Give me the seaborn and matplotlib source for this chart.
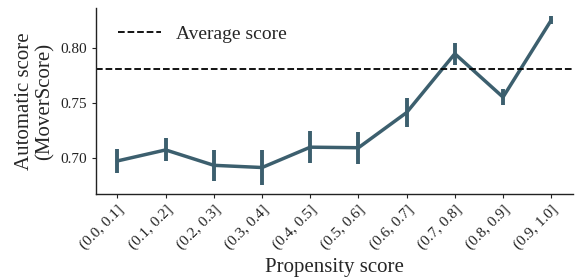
import matplotlib
matplotlib.use("Agg")
import matplotlib.pyplot as plt
import seaborn as sns
import pandas as pd
import numpy as np

categories = ["(0.0, 0.1]", "(0.1, 0.2]", "(0.2, 0.3]", "(0.3, 0.4]", "(0.4, 0.5]",
              "(0.5, 0.6]", "(0.6, 0.7]", "(0.7, 0.8]", "(0.8, 0.9]", "(0.9, 1.0]"]
scores = [0.697, 0.707, 0.693, 0.691, 0.7095, 0.709, 0.741, 0.7945, 0.755, 0.825]
errors = [0.011, 0.0105, 0.014, 0.0155, 0.0145, 0.0145, 0.0136, 0.010, 0.0075, 0.0036]
average_score = 0.781

sns.set_theme(style="ticks")
plt.rcParams['font.family'] = ['Liberation Serif', 'DejaVu Serif']

color = "#3c5f6e"
df = pd.DataFrame({"cat": categories, "score": scores, "err": errors})
df["x"] = np.arange(len(categories))

fig = plt.figure(figsize=(5.84, 2.79), dpi=100)
ax = fig.add_axes([0.164, 0.305, 0.817, 0.666])

sns.lineplot(data=df, x="x", y="score", ax=ax, color=color, linewidth=2.5)
ax.errorbar(df["x"], df["score"], yerr=df["err"], fmt="none", ecolor=color,
            elinewidth=2.8, capsize=0)
ax.axhline(average_score, color="black", linestyle="--", linewidth=1.3, label="Average score")

ax.set_xlim(-0.45, 9.45)
ax.set_ylim(0.667, 0.836)
ax.set_yticks([0.70, 0.75, 0.80])
ax.set_yticklabels(["0.70", "0.75", "0.80"], fontsize=11)
ax.set_xticks(df["x"])
ax.set_xticklabels(categories, rotation=45, ha="right", rotation_mode="anchor", fontsize=11)
ax.set_xlabel("Propensity score", fontsize=15)
ax.set_ylabel("Automatic score\n(MoverScore)", fontsize=15, linespacing=1.1)
ax.tick_params(axis="both", length=3, width=0.8, colors="#222222")
for s in ["left", "bottom"]:
    ax.spines[s].set_linewidth(1.0)
    ax.spines[s].set_color("#222222")
sns.despine(ax=ax)
ax.legend(loc="upper left", frameon=False, fontsize=14, handlelength=2.2,
          bbox_to_anchor=(0.01, 1.0))

fig.savefig("out.png", dpi=100)
